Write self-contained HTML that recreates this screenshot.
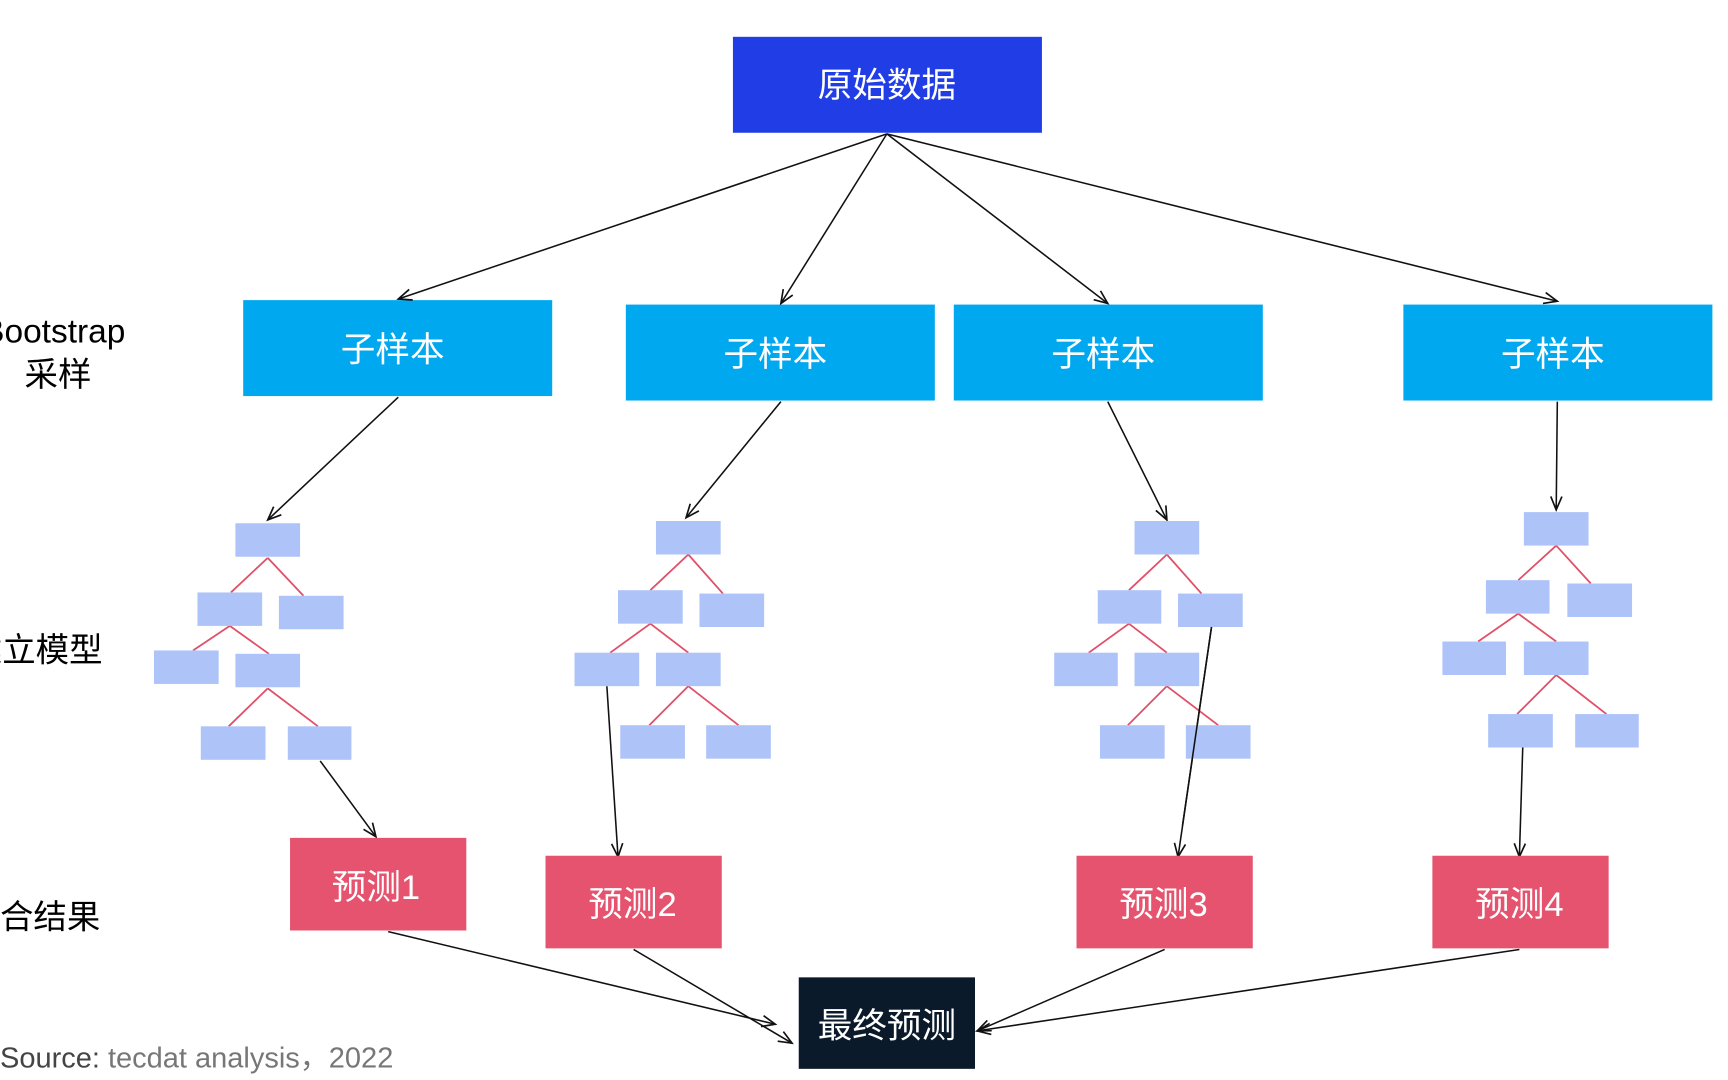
<!DOCTYPE html>
<html><head><meta charset="utf-8"><style>
html,body{margin:0;padding:0;background:#fff;width:1728px;height:1080px;overflow:hidden}
svg{display:block}
text{font-family:"Liberation Sans","Noto Sans CJK SC",sans-serif}
</style></head><body>
<svg width="1728" height="1080" viewBox="0 0 1549 968" preserveAspectRatio="none" xmlns="http://www.w3.org/2000/svg">
<defs>
<marker id="a" markerWidth="16" markerHeight="12" refX="13" refY="6" orient="auto" markerUnits="userSpaceOnUse">
<polyline points="1,1 13,6 1,11" fill="none" stroke="#111" stroke-width="1.5"/>
</marker>
</defs>
<rect x="657" y="33" width="277" height="86" fill="#213ee6"/>
<text x="795" y="87" fill="#fff" font-size="31" text-anchor="middle">原始数据</text>
<g fill="#00a8f0">
<rect x="218" y="269" width="277" height="86"/>
<rect x="561" y="273" width="277" height="86"/>
<rect x="855" y="273" width="277" height="86"/>
<rect x="1258" y="273" width="277" height="86"/>
</g>
<g fill="#fff" font-size="31" text-anchor="middle">
<text x="352" y="324">子样本</text>
<text x="695" y="328">子样本</text>
<text x="989" y="328">子样本</text>
<text x="1392" y="328">子样本</text>
</g>
<g font-size="30" fill="#000">
<text x="-16" y="307">Bootstrap</text>
<text x="22" y="346">采样</text>
<text x="-28" y="593">建立模型</text>
<text x="-30" y="832">结合结果</text>
</g>
<g stroke="#111" stroke-width="1.4" fill="none" marker-end="url(#a)">
<line x1="795" y1="120" x2="357" y2="268"/>
<line x1="795" y1="120" x2="700" y2="272"/>
<line x1="795" y1="120" x2="993" y2="272"/>
<line x1="795" y1="120" x2="1396" y2="270"/>
<line x1="357" y1="356" x2="240" y2="466"/>
<line x1="700" y1="360" x2="615" y2="464"/>
<line x1="993" y1="360" x2="1046" y2="466"/>
<line x1="1396" y1="360" x2="1395" y2="457"/>
<line x1="287" y1="682" x2="337" y2="750"/>
<line x1="544" y1="615" x2="554" y2="768"/>
<line x1="1086" y1="562" x2="1056" y2="768"/>
<line x1="1365" y1="670" x2="1362" y2="768"/>
<line x1="348" y1="835" x2="695" y2="918"/>
<line x1="568" y1="851" x2="710" y2="935"/>
<line x1="1044" y1="851" x2="876" y2="924"/>
<line x1="1362" y1="851" x2="876" y2="924"/>
</g>
<g stroke="#e05068" stroke-width="1.6">
<line x1="240" y1="500" x2="207" y2="531"/><line x1="240" y1="500" x2="272" y2="534"/>
<line x1="206" y1="561" x2="173" y2="583"/><line x1="206" y1="561" x2="241" y2="586"/>
<line x1="240" y1="617" x2="205" y2="651"/><line x1="240" y1="617" x2="285" y2="651"/>
<line x1="617" y1="497" x2="583" y2="529"/><line x1="617" y1="497" x2="648" y2="532"/>
<line x1="583" y1="559" x2="547" y2="585"/><line x1="583" y1="559" x2="617" y2="585"/>
<line x1="617" y1="615" x2="582" y2="650"/><line x1="617" y1="615" x2="662" y2="650"/>
<line x1="1046" y1="497" x2="1012" y2="529"/><line x1="1046" y1="497" x2="1077" y2="532"/>
<line x1="1012" y1="559" x2="976" y2="585"/><line x1="1012" y1="559" x2="1046" y2="585"/>
<line x1="1046" y1="615" x2="1011" y2="650"/><line x1="1046" y1="615" x2="1092" y2="650"/>
<line x1="1395" y1="489" x2="1361" y2="520"/><line x1="1395" y1="489" x2="1426" y2="523"/>
<line x1="1361" y1="550" x2="1325" y2="575"/><line x1="1361" y1="550" x2="1395" y2="575"/>
<line x1="1395" y1="605" x2="1360" y2="640"/><line x1="1395" y1="605" x2="1440" y2="640"/>
</g>
<g fill="#aec3f8">
<rect x="211" y="469" width="58" height="30"/><rect x="177" y="531" width="58" height="30"/><rect x="250" y="534" width="58" height="30"/>
<rect x="138" y="583" width="58" height="30"/><rect x="211" y="586" width="58" height="30"/>
<rect x="180" y="651" width="58" height="30"/><rect x="258" y="651" width="57" height="30"/>
<rect x="588" y="467" width="58" height="30"/><rect x="554" y="529" width="58" height="30"/><rect x="627" y="532" width="58" height="30"/>
<rect x="515" y="585" width="58" height="30"/><rect x="588" y="585" width="58" height="30"/>
<rect x="556" y="650" width="58" height="30"/><rect x="633" y="650" width="58" height="30"/>
<rect x="1017" y="467" width="58" height="30"/><rect x="984" y="529" width="57" height="30"/><rect x="1056" y="532" width="58" height="30"/>
<rect x="945" y="585" width="57" height="30"/><rect x="1017" y="585" width="58" height="30"/>
<rect x="986" y="650" width="58" height="30"/><rect x="1063" y="650" width="58" height="30"/>
<rect x="1366" y="459" width="58" height="30"/><rect x="1332" y="520" width="57" height="30"/><rect x="1405" y="523" width="58" height="30"/>
<rect x="1293" y="575" width="57" height="30"/><rect x="1366" y="575" width="58" height="30"/>
<rect x="1334" y="640" width="58" height="30"/><rect x="1412" y="640" width="57" height="30"/>
</g>
<line x1="1086" y1="562" x2="1060" y2="740" stroke="#111" stroke-width="1.4"/>
<g fill="#e5536e">
<rect x="260" y="751" width="158" height="83"/>
<rect x="489" y="767" width="158" height="83"/>
<rect x="965" y="767" width="158" height="83"/>
<rect x="1284" y="767" width="158" height="83"/>
</g>
<g fill="#fff" font-size="31" text-anchor="middle">
<text x="337" y="806">预测1</text>
<text x="567" y="821">预测2</text>
<text x="1043" y="821">预测3</text>
<text x="1362" y="821">预测4</text>
</g>
<rect x="716" y="876" width="158" height="82" fill="#0b1a2a"/>
<text x="795" y="930" fill="#fff" font-size="31" text-anchor="middle">最终预测</text>
<text x="0" y="957" font-size="26" fill="#444">Source: <tspan fill="#777">tecdat analysis，2022</tspan></text>
</svg>
</body></html>
